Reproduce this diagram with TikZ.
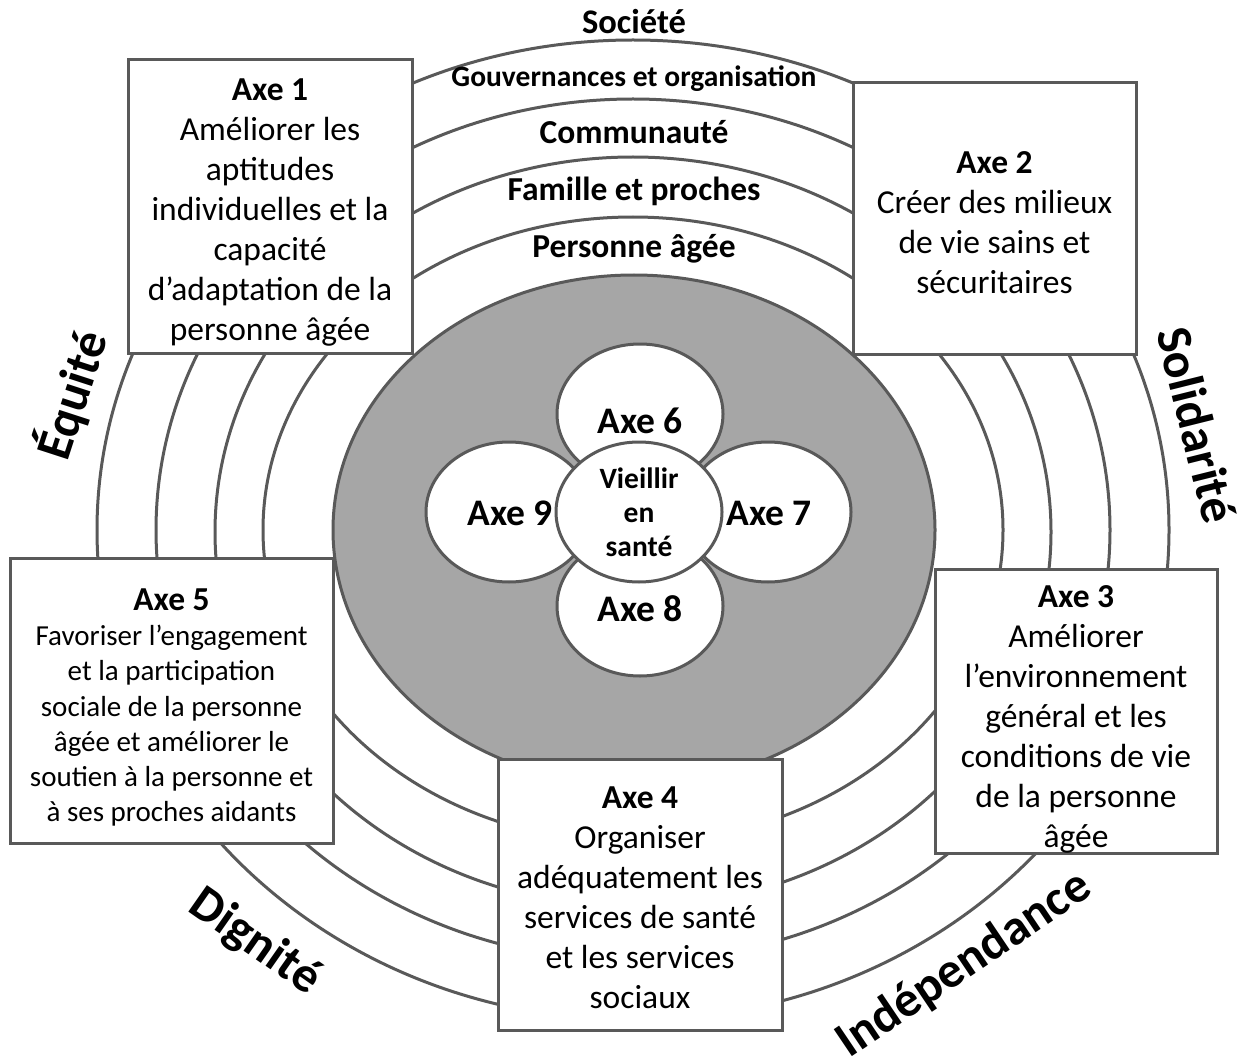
\documentclass[tikz,border=0pt]{standalone}
\usepackage{fontspec}
\setmainfont{Carlito}
\usetikzlibrary{shapes.geometric}
\definecolor{edgegray}{HTML}{595959}
\definecolor{discgray}{HTML}{A6A6A6}
\begin{document}
\begin{tikzpicture}[x=1pt,y=-1pt,
  ring/.style={draw=edgegray, line width=3pt},
  axebox/.style={draw=edgegray, line width=3pt, fill=white, inner sep=0pt},
  boxtext/.style={align=center, inner sep=0pt, font=\fontsize{33.5}{40}\selectfont},
  boxtextsmall/.style={boxtext, font=\fontsize{29}{35.3}\selectfont},
  ringlabel/.style={anchor=base, font=\fontsize{33.5}{38}\selectfont\bfseries},
  petal/.style={ellipse, draw=edgegray, line width=3pt, fill=white,
    minimum width=166pt, minimum height=140pt, inner sep=0pt},
  petaltext/.style={font=\fontsize{37.5}{42}\selectfont\bfseries},
  coretext/.style={align=center, font=\fontsize{29.5}{34}\selectfont\bfseries},
  value/.style={font=\fontsize{50}{54}\selectfont\bfseries}
]
\useasboundingbox (0,0) rectangle (1247,1059);

% concentric rings: personne, famille, communaute, gouvernance, societe
\draw[ring] (633,530) ellipse [x radius=536pt, y radius=490pt];
\draw[ring] (633,530) ellipse [x radius=477pt, y radius=431pt];
\draw[ring] (633,532) ellipse [x radius=418pt, y radius=375pt];
\draw[ring] (633,530) ellipse [x radius=370pt, y radius=313pt];
% central grey disc
\draw[ring, fill=discgray] (634,530) ellipse [x radius=301pt, y radius=255pt];

% ring labels
\node[ringlabel, font=\fontsize{34.5}{38}\selectfont\bfseries] (soc) at (634,34) {Société};
\node[ringlabel, font=\fontsize{29.5}{34}\selectfont\bfseries] (gov) at (634,87) {Gouvernances et organisation};
\node[ringlabel] (com) at (634,144) {Communauté};
\node[ringlabel] (fam) at (634,201) {Famille et proches};
\node[ringlabel] (pers) at (634,258) {Personne âgée};

% the five outer axes: frames
\node[axebox, minimum width=284pt, minimum height=293pt] (ax1) at (270,206.5) {};
\node[axebox, minimum width=283pt, minimum height=271pt] (ax2) at (994.5,218.5) {};
\node[axebox, minimum width=282pt, minimum height=284pt] (ax3) at (1076,711) {};
\node[axebox, minimum width=284pt, minimum height=271pt] (ax4) at (640,894.5) {};
\node[axebox, minimum width=323pt, minimum height=285pt] (ax5) at (171.5,700.5) {};

% the five outer axes: wording
\node[boxtext, yshift=-6pt] (ax1t) at (ax1.center)
  {\textbf{Axe 1}\\Améliorer les\\aptitudes\\individuelles et la\\capacité\\d’adaptation de la\\personne âgée};
\node[boxtext, yshift=-4pt] (ax2t) at (ax2.center)
  {\textbf{Axe 2}\\Créer des milieux\\de vie sains et\\sécuritaires};
\node[boxtext, yshift=-8pt] (ax3t) at (ax3.center)
  {\textbf{Axe 3}\\Améliorer\\l’environnement\\général et les\\conditions de vie\\de la personne\\âgée};
\node[boxtext, yshift=-3pt] (ax4t) at (ax4.center)
  {\textbf{Axe 4}\\Organiser\\adéquatement les\\services de santé\\et les services\\sociaux};
\node[boxtextsmall, yshift=-7pt] (ax5t) at (ax5.center)
  {{\fontsize{33.5}{40}\selectfont\textbf{Axe 5}}\\Favoriser l’engagement\\et la participation\\sociale de la personne\\âgée et améliorer le\\soutien à la personne et\\à ses proches aidants};

% inner axes around the core
\node[petal] (p6) at (640,414) {};
\node[petal] (p7) at (768,512) {};
\node[petal] (p8) at (640,606) {};
\node[petal] (p9) at (509,512) {};
\node[petal] (core) at (639,512) {};
\node[petaltext] (t6) at (640,421) {Axe 6};
\node[petaltext] (t7) at (769,513) {Axe 7};
\node[petaltext] (t8) at (640,609) {Axe 8};
\node[petaltext] (t9) at (510,513) {Axe 9};
\node[coretext] (coret) at (639,512) {Vieillir\\en\\santé};

% guiding values
\node[value, rotate=72] (equ) at (72,395) {Équité};
\node[value, rotate=-76] (sol) at (1197,425) {Solidarité};
\node[value, rotate=-35] (dig) at (255,942) {Dignité};
\node[value, rotate=34] (ind) at (964,965) {Indépendance};
\end{tikzpicture}
\end{document}
